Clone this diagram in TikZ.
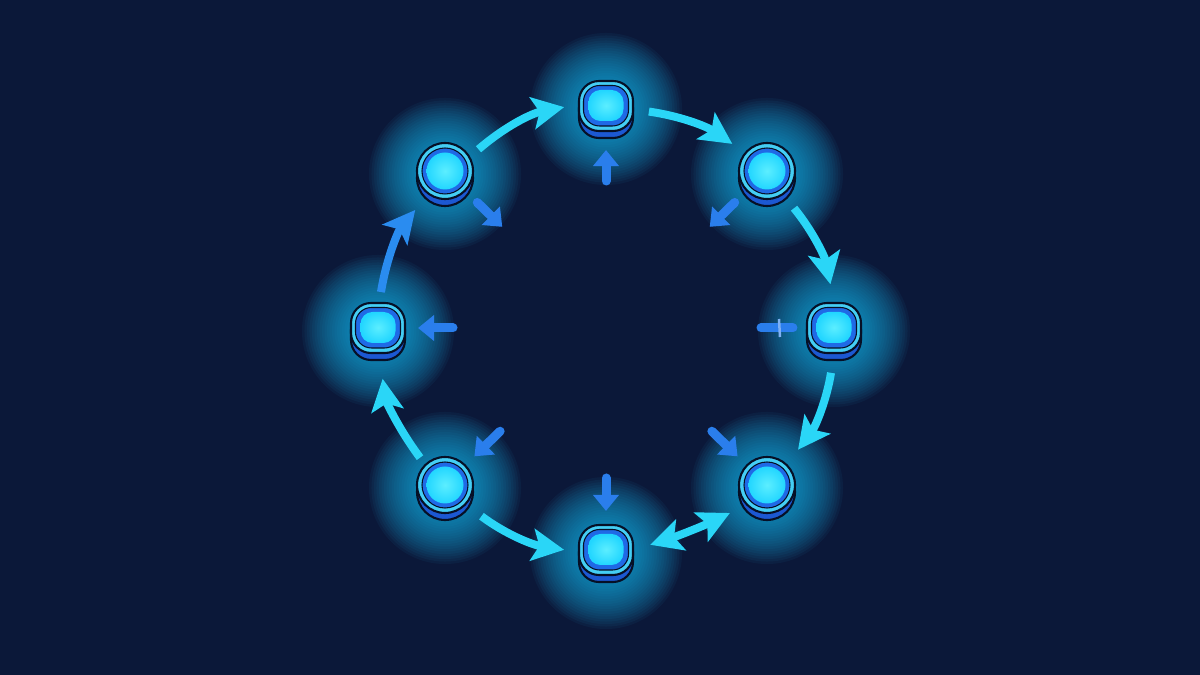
\documentclass[tikz,border=0pt]{standalone}
\usetikzlibrary{arrows.meta,positioning,calc,backgrounds}

\definecolor{bg}{HTML}{0B1839}
\definecolor{glowc}{HTML}{1FB8EE}
\definecolor{ringc}{HTML}{2AD6F7}
\definecolor{ringb}{HTML}{2A8CF0}
\definecolor{innerb}{HTML}{2A7EEC}
\definecolor{rimc}{HTML}{44CEF4}
\definecolor{coreb}{HTML}{1F6AE6}
\definecolor{corec}{HTML}{22D6FF}
\definecolor{corel}{HTML}{5CEEFF}
\definecolor{baseb}{HTML}{1C58D2}
\definecolor{edged}{HTML}{061026}

\tikzset{
  puck/.style={inner sep=0pt, draw=edged, line width=0.6pt, fill=rimc,
    preaction={fill=baseb, draw=edged, transform canvas={yshift=-0.7mm}}},
  sqpuck/.style={puck, rectangle, rounded corners=2mm,
    minimum width=5.4mm, minimum height=5mm,
    path picture={
      \fill[coreb, draw=edged, line width=0.3pt, rounded corners=1.6mm]
        ([shift={(0.45mm,0.5mm)}]path picture bounding box.south west) rectangle
        ([shift={(-0.45mm,-0.45mm)}]path picture bounding box.north east);
      \shade[inner color=corel, outer color=corec, rounded corners=1.2mm]
        ([shift={(0.95mm,1mm)}]path picture bounding box.south west) rectangle
        ([shift={(-0.95mm,-0.9mm)}]path picture bounding box.north east);}},
  rdpuck/.style={puck, circle, minimum size=5.6mm,
    path picture={
      \fill[coreb, draw=edged, line width=0.3pt] (path picture bounding box.center) circle (2.3mm);
      \shade[inner color=corel, outer color=corec] (path picture bounding box.center) circle (1.85mm);}},
  ringtip/.style={-{Stealth[length=3.2mm,width=3.2mm,inset=0.7mm,fill=#1]}},
  ring/.style={draw=#1, line width=0.8mm, ringtip=#1},
  ring/.default=ringc,
  inarr/.style={draw=innerb, line width=0.9mm, line cap=round,
    -{Triangle[length=1.6mm,width=2.5mm,fill=innerb]}}
}

\begin{document}
\begin{tikzpicture}
  \useasboundingbox (0,0) rectangle (12,6.75);

  \coordinate (C) at (6.06,3.47);

  % the eight pucks
  \node[sqpuck] (T)  at ([shift={(0,2.22)}]C) {};
  \node[rdpuck] (TR) at ([shift={(1.61,1.57)}]C) {};
  \node[sqpuck] (R)  at ([shift={(2.28,0)}]C) {};
  \node[rdpuck] (BR) at ([shift={(1.61,-1.57)}]C) {};
  \node[sqpuck] (B)  at ([shift={(0,-2.22)}]C) {};
  \node[rdpuck] (BL) at ([shift={(-1.61,-1.57)}]C) {};
  \node[sqpuck] (L)  at ([shift={(-2.28,0)}]C) {};
  \node[rdpuck] (TL) at ([shift={(-1.61,1.57)}]C) {};

  % background and glow
  \begin{scope}[on background layer]
    \fill[bg] (0,0) rectangle (12,6.75);
    \foreach \n in {T,TR,R,BR,B,BL,L,TL}
      \foreach \r in {0.26,0.285,...,0.78}
        \fill[glowc, opacity=0.055] ([yshift=-0.3mm]\n) circle (\r);
  \end{scope}

  % ring arrows
  \path
    (TL.30)  edge[ring, bend left=15, shorten <=1.1mm, shorten >=1.4mm] (T.177)
    (T.-7)   edge[ring, bend left=13, shorten <=1.5mm, shorten >=1.5mm] (TR.140)
    (TR.-56) edge[ring, bend left=14, shorten <=1.7mm, shorten >=1.8mm] (R.90)
    (R.-90)  edge[ring, bend left=14, shorten <=1.9mm, shorten >=1.8mm] (BR.46)
    (B.0)    edge[ring, {Stealth[length=3.2mm,width=3.2mm,inset=0.7mm,fill=ringc]}-{Stealth[length=3.2mm,width=3.2mm,inset=0.7mm,fill=ringc]},
                 bend right=4, shorten <=1.7mm, shorten >=1.8mm] (BR.224)
    (BL.-43) edge[ring, bend right=14, shorten <=1.9mm, shorten >=1.4mm] (B.184)
    (BL.134) edge[ring, bend left=14, shorten <=0.8mm, shorten >=2.5mm] (L.-88)
    (L.87)   edge[ring=ringb, bend left=15, shorten <=1mm, shorten >=2mm] (TL.234);

  % small arrows on the inside
  \coordinate (tin)  at ($(T)!0.75cm!(C)$);
  \coordinate (trin) at ($(TR)!0.8cm!(C)$);
  \coordinate (rin)  at ($(R)!0.73cm!(C)$);
  \coordinate (brin) at ($(BR)!0.77cm!(C)$);
  \coordinate (bin)  at ($(B)!0.72cm!(C)$);
  \coordinate (blin) at ($(BL)!0.77cm!(C)$);
  \coordinate (lin)  at ($(L)!0.75cm!(C)$);
  \coordinate (tlin) at ($(TL)!0.8cm!(C)$);

  \draw[inarr, shorten >=1.8mm] (tin) -- (T);
  \draw[inarr, shorten <=1.6mm] (TR) -- (trin);
  \draw[inarr, shorten <=1.6mm] (TL) -- (tlin);
  \draw[inarr, shorten >=1.2mm] (lin) -- (L);
  \draw[inarr, shorten >=1.2mm] (blin) -- (BL);
  \draw[inarr, shorten >=1.3mm] (bin) -- (B);
  \draw[inarr, shorten >=1.2mm] (brin) -- (BR);
  \draw[draw=innerb, line width=0.9mm, line cap=round, shorten >=1.3mm] (rin) -- (R);
  \draw[innerb!60!white, line width=0.25mm] ([shift={(0.18,0.09)}]rin) -- ([shift={(0.19,-0.09)}]rin);
\end{tikzpicture}
\end{document}
